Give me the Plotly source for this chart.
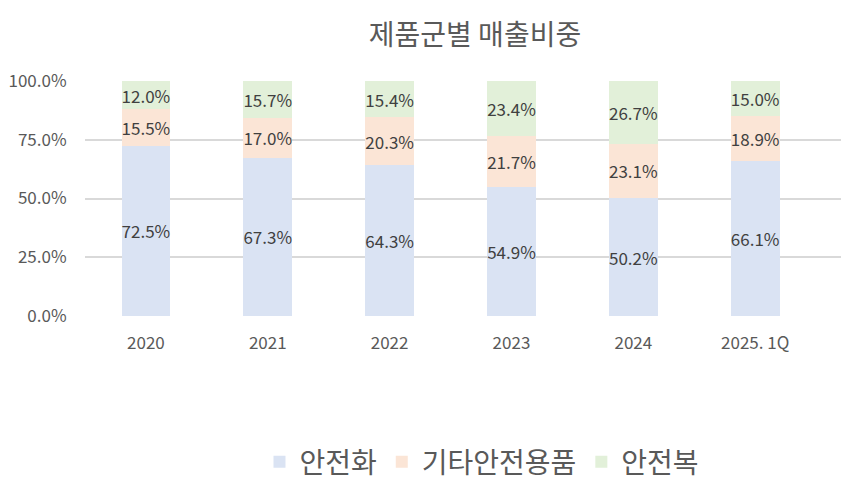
import plotly.graph_objects as go

# 제품군별 매출비중 (%)
categories = ['2020', '2021', '2022', '2023', '2024', '2025. 1Q']
safety_shoes = [72.5, 67.3, 64.3, 54.9, 50.2, 66.1]      # 안전화
other_goods = [15.5, 17.0, 20.3, 21.7, 23.1, 18.9]       # 기타안전용품
safety_wear = [12.0, 15.7, 15.4, 23.4, 26.7, 15.0]       # 안전복
series_names = ['안전화', '기타안전용품', '안전복']
colors = ['#DAE3F3', '#FBE5D6', '#E2F0D9']

FONT = 'Noto Sans CJK KR'

# page body has an 8px margin, so the figure is sized/offset to land on the window
W, H = 841, 482

fig = go.Figure()

for name, vals, color in zip(series_names, [safety_shoes, other_goods, safety_wear], colors):
    fig.add_trace(go.Bar(
        x=categories,
        y=[v / 100 for v in vals],
        name=name,
        marker=dict(color=color, line=dict(width=0)),
        width=0.4,
        text=[f'{v:.1f}%' for v in vals],
        textposition='inside',
        insidetextanchor='middle',
        textangle=0,
        constraintext='none',
        textfont=dict(family=FONT, size=17, color='#404040'),
    ))

fig.update_layout(
    barmode='stack',
    width=W,
    height=H,
    margin=dict(l=75, r=0, t=73, b=174),
    paper_bgcolor='white',
    plot_bgcolor='white',
    font=dict(family=FONT, color='#595959'),
    title=dict(text='제품군별 매출비중', x=467 / W, xanchor='center',
               y=1 - 27 / H, yanchor='middle',
               font=dict(family=FONT, size=28, color='#595959')),
    xaxis=dict(
        range=[-0.5, 5.77],
        showgrid=False,
        ticks='outside', ticklen=12, tickcolor='rgba(0,0,0,0)',
        tickfont=dict(family=FONT, size=17, color='#595959'),
        showline=False,
    ),
    yaxis=dict(
        range=[0, 1],
        dtick=0.25,
        tickformat='.1%',
        gridcolor='#D9D9D9',
        gridwidth=1.5,
        zeroline=False,
        ticks='outside', ticklen=14, tickcolor='rgba(0,0,0,0)',
        tickfont=dict(family=FONT, size=17, color='#595959'),
    ),
    legend=dict(
        orientation='h',
        x=437 / W, xanchor='center',
        y=-(454 - 308) / 235, yanchor='middle',
        font=dict(family=FONT, size=28, color='#595959'),
        traceorder='normal',
        itemwidth=30,
    ),
    showlegend=True,
)

fig.write_html('out.html')
